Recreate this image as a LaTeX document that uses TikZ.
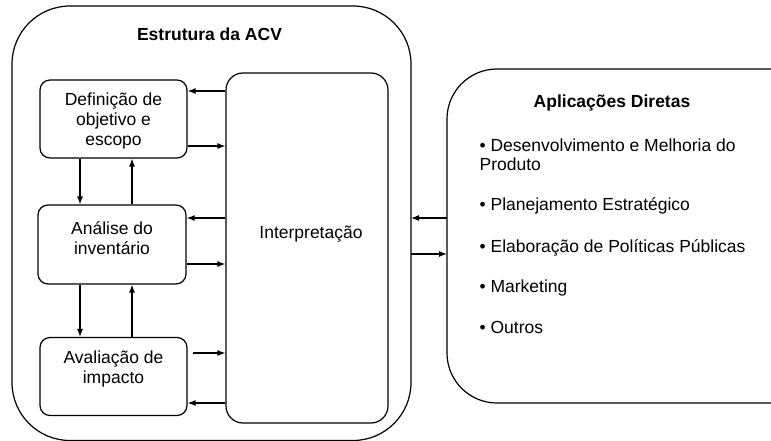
\documentclass[tikz,border=0pt]{standalone}
\usepackage{fontspec}
\setmainfont{Liberation Sans}
\usetikzlibrary{arrows.meta}
\begin{document}
\begin{tikzpicture}[x=1pt,y=-1pt,
  line width=1.2pt,
  every node/.style={font=\fontsize{17.5}{20}\selectfont},
  stagebox/.style={draw,rounded corners=10pt,inner sep=0pt},
  txt/.style={align=center,inner sep=0pt},
  bul/.style={anchor=base west,inner sep=0pt},
  arr/.style={-{Latex[length=8pt,width=6pt]},line width=1.2pt}]
\useasboundingbox (0,0) rectangle (771,441);
\clip (0,0) rectangle (771,441);
% outer frames
\draw[rounded corners=58pt] (12,6) rectangle (411,440.5);
\draw[rounded corners=50pt] (447,69) rectangle (830,403);
% title
\node[txt,font=\fontsize{17.5}{20}\selectfont\bfseries] (ttl) at (209.5,34) {Estrutura da ACV};
% stage boxes
\node[stagebox,minimum width=147pt,minimum height=78pt] (def) at (113.5,119) {};
\node[stagebox,minimum width=148pt,minimum height=79pt] (ana) at (112,244.5) {};
\node[stagebox,minimum width=147pt,minimum height=78pt] (ava) at (113.5,376.5) {};
\node[draw,rounded corners=17pt,inner sep=0pt,minimum width=162pt,minimum height=350pt] (int) at (307,248) {};
% texts
\node[txt] (tdef) at (113.5,121) {Definição de\\objetivo e\\escopo};
\node[txt] (tana) at (112,238) {Análise do\\inventário};
\node[txt] (tava) at (113.5,369) {Avaliação de\\impacto};
\node[txt] (tint) at (311,234) {Interpretação};
% arrows between stages and interpretation
\draw[arr] (int.west |- 0,91) -- (def.east |- 0,91);
\draw[arr] (def.east |- 0,146) -- (int.west |- 0,146);
\draw[arr] (int.west |- 0,218) -- (ana.east |- 0,218);
\draw[arr] (ana.east |- 0,264) -- (int.west |- 0,264);
\draw[arr] (193,353) coordinate (avs) -- (int.west |- avs);
\draw[arr] (int.west |- 0,403) -- (ava.east |- 0,403);
% vertical arrows
\draw[arr] (def.south -| 80,0) -- (ana.north -| 80,0);
\draw[arr] (ana.north -| 132,0) -- (def.south -| 132,0);
\draw[arr] (ana.south -| 80,0) -- (ava.north -| 80,0);
\draw[arr] (ava.north -| 132,0) -- (ana.south -| 132,0);
% outer connections
\coordinate (outR) at (411,0);
\coordinate (apL) at (447,0);
\draw[arr] (apL |- 0,218) -- (outR |- 0,218);
\draw[arr] (outR |- 0,254) -- (apL |- 0,254);
% applications
\node[txt,font=\fontsize{17.5}{20}\selectfont\bfseries,anchor=base] (atl) at (612,108) {Aplicações Diretas};
\node[bul] (b1) at (479,152) {• Desenvolvimento e Melhoria do};
\node[bul] (b1b) at (479,170) {Produto};
\node[bul] (b2) at (479,210) {• Planejamento Estratégico};
\node[bul] (b3) at (479,252) {• Elaboração de Políticas Públicas};
\node[bul] (b4) at (479,292) {• Marketing};
\node[bul] (b5) at (479,333) {• Outros};
\end{tikzpicture}
\end{document}
